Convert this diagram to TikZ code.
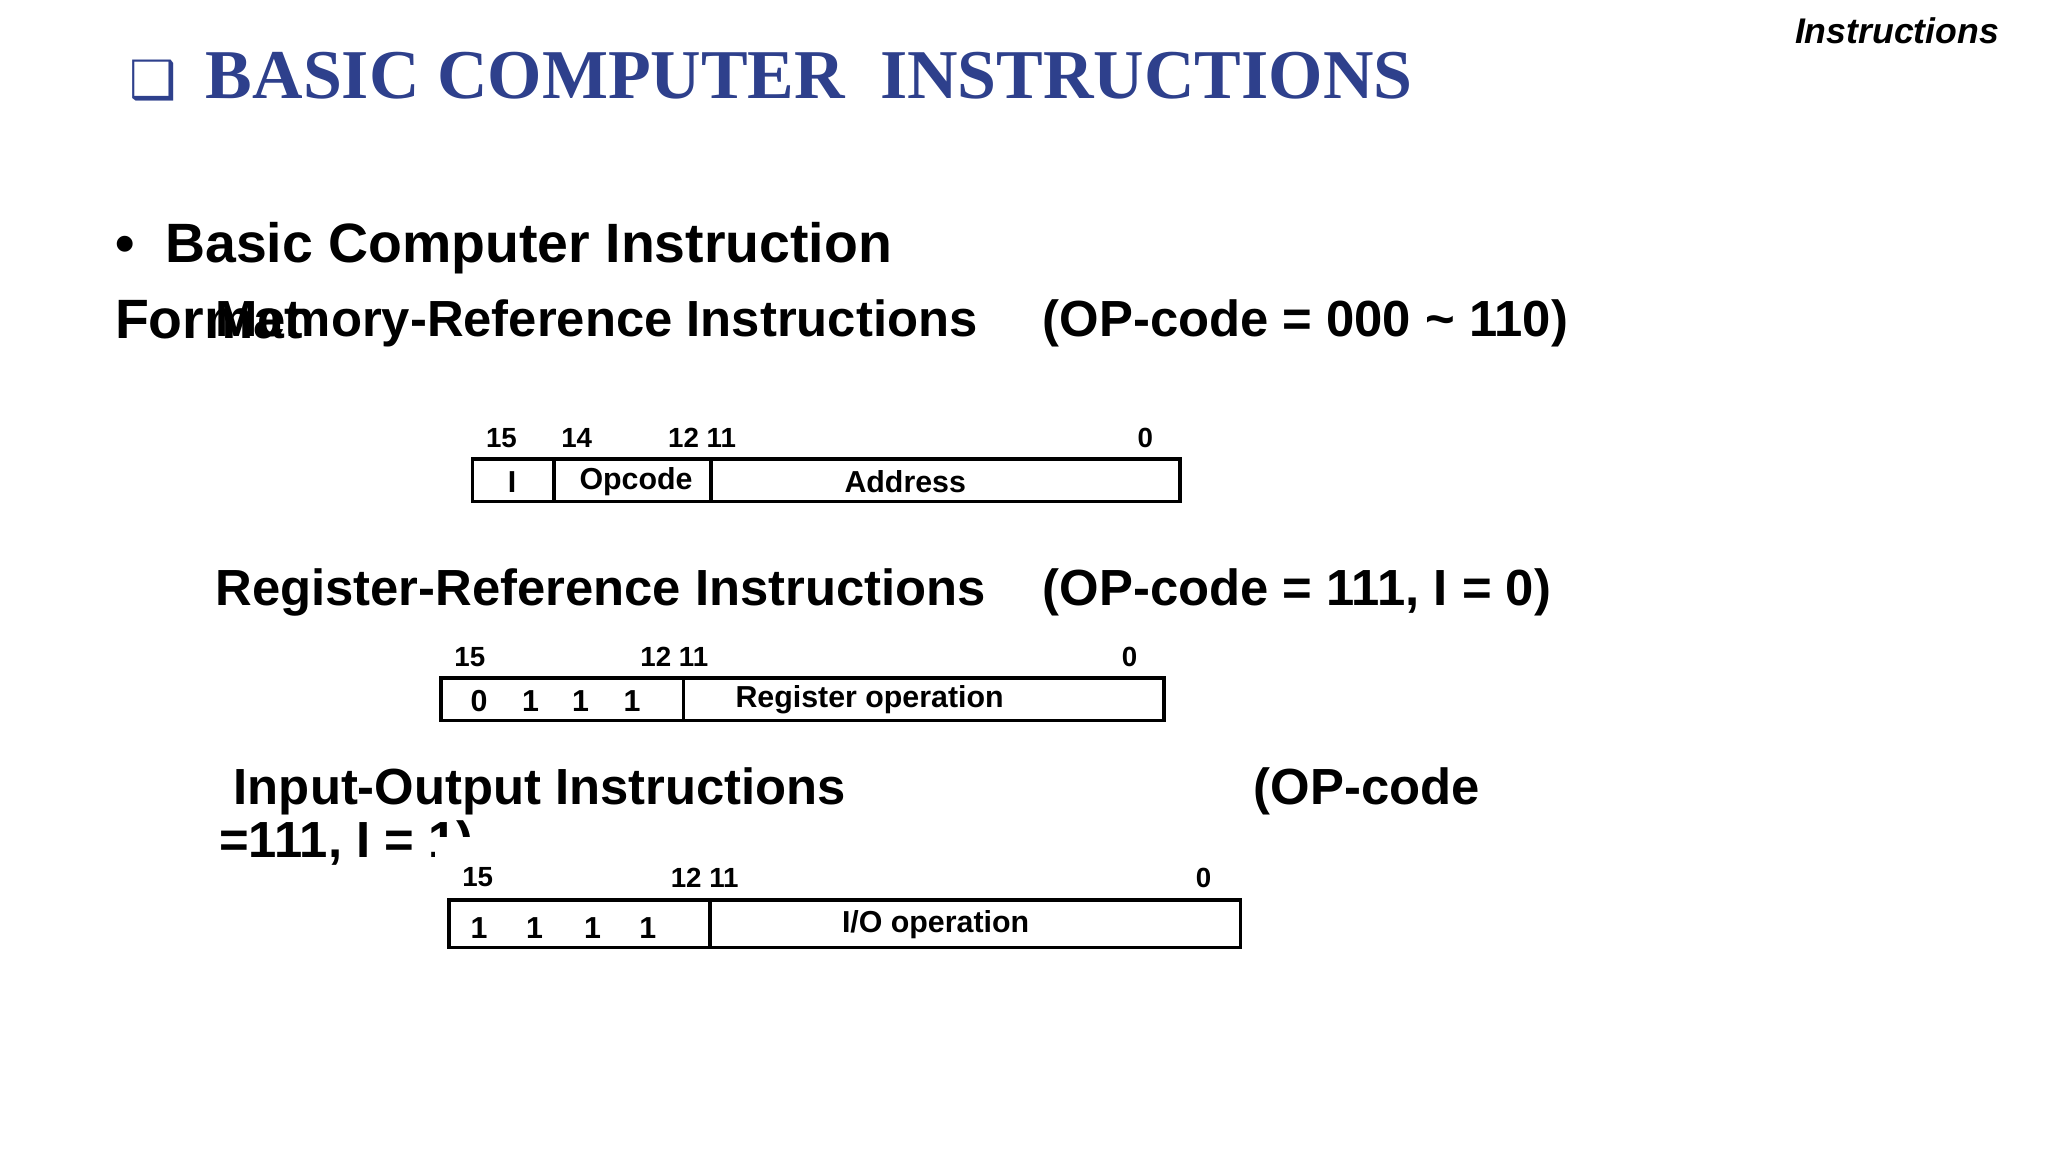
\documentclass[tikz,border=0pt]{standalone}
\usepackage{fontspec}
\setmainfont{Liberation Sans}
\newfontfamily\titlefont{Liberation Serif}
\newfontfamily\symfont{DejaVu Sans}
\definecolor{titleblue}{RGB}{46,64,140}
\begin{document}
\begin{tikzpicture}[x=1pt,y=-1pt,
  hd/.style={font=\bfseries\fontsize{38.5}{42}\selectfont,anchor=west,inner sep=0},
  lbl/.style={font=\bfseries\fontsize{21}{23}\selectfont,inner sep=0},
  cell/.style={font=\bfseries\fontsize{23}{25}\selectfont,inner sep=0},
  fbox/.style={draw,line width=2.8pt}]
\useasboundingbox (0,0) rectangle (1552,873);
\node[anchor=west,inner sep=0,text=titleblue] (title) at (98,58) {{\symfont\fontsize{40}{44}\selectfont ❑}\hspace{22pt}{\titlefont\bfseries\fontsize{53}{58}\selectfont BASIC COMPUTER\ \ INSTRUCTIONS}};
\node[anchor=east,inner sep=0,font=\bfseries\itshape\fontsize{27}{30}\selectfont] (corner) at (1515,23) {Instructions};
\node[hd,font=\bfseries\fontsize{42}{46}\selectfont] (bullet) at (87,188) {•\ \ Basic Computer Instruction};
\node[hd,font=\bfseries\fontsize{42}{46}\selectfont] (format) at (87,242) {Format};
\node[hd] (mem) at (163,245) {Memory-Reference Instructions};
\node[hd] (memop) at (790,245) {(OP-code = 000 \textasciitilde{} 110)};
% box 1
\draw[fbox] (358,348) rectangle (894,380);
\draw[fbox] (420,348) -- (420,380) (539,348) -- (539,380);
\node[lbl] (a15) at (380,332) {15};
\node[lbl] (a14) at (437,332) {14};
\node[lbl] (a12) at (532,332) {12 11};
\node[lbl] (a0) at (868,332) {0};
\node[cell] (cI) at (388,365) {I};
\node[cell] (cOp) at (482,365) {Opcode};
\node[cell] (cAd) at (686,365) {Address};
% register
\node[hd] (reg) at (163,449) {Register-Reference Instructions};
\node[hd] (regop) at (790,449) {(OP-code = 111, I = 0)};
\draw[fbox] (334,514) rectangle (882,546);
\draw[fbox] (518,514) -- (518,546);
\node[lbl] (b15) at (356,498) {15};
\node[lbl] (b12) at (511,498) {12 11};
\node[lbl] (b0) at (856,498) {0};
\foreach \x [count=\i] in {363,402,440,479} \node[cell] (r\i) at (\x,531) {\ifnum\i=1 0\else 1\fi};
\node[cell] (rop) at (659,530) {Register operation};
% io
\node[hd] (io) at (177,600) {Input-Output Instructions};
\node[hd] (ioop) at (950,600) {(OP-code};
\node[hd] (ioop2) at (166,640) {=111, I = 1)};
\fill[white] (330,634) rectangle (400,662);
\draw[fbox] (340,682) rectangle (940,718);
\draw[fbox] (538,682) -- (538,718);
\node[lbl] (c15) at (362,665) {15};
\node[lbl] (c12) at (534,665) {12 11};
\node[lbl] (c0) at (912,665) {0};
\foreach \x [count=\i] in {363,405,449,491} \node[cell] (o\i) at (\x,703) {1};
\node[cell] (oop) at (709,701) {I/O operation};
\end{tikzpicture}
\end{document}
